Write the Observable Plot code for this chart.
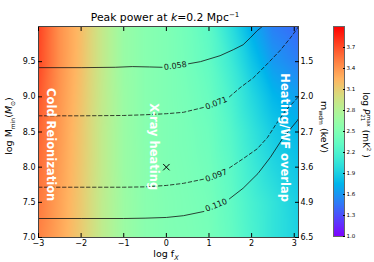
<!DOCTYPE html>
<html><head><meta charset="utf-8">
<script src="https://cdn.jsdelivr.net/npm/d3@7"></script>
<script src="https://cdn.jsdelivr.net/npm/@observablehq/plot@0.6"></script>
<style>
body{margin:0;background:#fff;}
#chart{position:relative;width:374px;height:262px;font-family:"DejaVu Sans",sans-serif;}
#chart svg{position:absolute;top:0;}
</style></head><body><div id="chart"></div>
<script>
// heatmap grid (log f_X columns, log M_min rows)
const fxGrid = [-3, -2.5, -2, -1.5, -1, -0.5, 0, 0.5, 1, 1.5, 2, 2.5, 3.1];
const mminGrid = [10, 9.5, 9, 8.5, 8, 7.5, 7];
const logP = [
  [3.75, 3.42, 3.20, 2.90, 2.65, 2.55, 2.50, 2.42, 2.30, 2.02, 1.72, 1.50, 1.40],
  [3.73, 3.42, 3.19, 2.90, 2.65, 2.55, 2.50, 2.43, 2.33, 2.12, 1.85, 1.62, 1.50],
  [3.68, 3.40, 3.17, 2.89, 2.66, 2.55, 2.50, 2.45, 2.37, 2.20, 1.97, 1.77, 1.65],
  [3.62, 3.38, 3.15, 2.88, 2.66, 2.55, 2.50, 2.46, 2.40, 2.26, 2.06, 1.88, 1.77],
  [3.58, 3.36, 3.14, 2.88, 2.66, 2.56, 2.50, 2.47, 2.42, 2.30, 2.12, 1.96, 1.84],
  [3.53, 3.34, 3.13, 2.87, 2.67, 2.56, 2.51, 2.48, 2.44, 2.33, 2.18, 2.05, 1.90],
  [3.49, 3.32, 3.12, 2.87, 2.67, 2.56, 2.51, 2.49, 2.45, 2.35, 2.20, 2.05, 1.92]
];
// tick values / labels
const xTicks = [-3, -2, -1, 0, 1, 2, 3];
const yTicks = [7.0, 7.5, 8.0, 8.5, 9.0, 9.5];
const mwdmLabels = ["6.5", "4.9", "3.6", "2.7", "2.0", "1.5"];
const cbarTicks = [1.0, 1.3, 1.6, 1.9, 2.2, 2.5, 2.8, 3.1, 3.4, 3.7];
// contour lines (null = gap for label)
const c058x = [-3, -2, -1.2, -0.8, -0.4, -0.1, null, 0.52, 0.8, 1.26, 1.57, 1.8, 1.97, 2.13, 2.25];
const c058y = [9.415, 9.415, 9.42, 9.43, 9.425, 9.42, null, 9.47, 9.5, 9.585, 9.67, 9.74, 9.84, 9.94, 10.0];
const c071x = [-3, -2, -1, -0.5, 0, 0.4, 0.88, null, 1.48, 1.73, 2.04, 2.37, 2.67, 2.9, 3.07, 3.1];
const c071y = [8.73, 8.73, 8.735, 8.745, 8.76, 8.78, 8.85, null, 9.0, 9.13, 9.27, 9.47, 9.66, 9.83, 9.97, 10.0];
const c097x = [-3, -2, -1, -0.5, 0, 0.4, 0.88, null, 1.48, 1.8, 2.13, 2.37, 2.55, 2.79, 3.1];
const c097y = [7.715, 7.715, 7.715, 7.72, 7.74, 7.77, 7.83, null, 7.99, 8.12, 8.26, 8.42, 8.59, 8.8, 9.0];
const c110x = [-3, -2, -1, -0.5, 0, 0.4, 0.88, null, 1.48, 1.8, 2.15, 2.44, 2.74, 3.07, 3.1];
const c110y = [7.27, 7.27, 7.27, 7.275, 7.285, 7.31, 7.37, null, 7.55, 7.7, 7.91, 8.14, 8.42, 8.66, 8.69];
const contourLevels = ["0.058", "0.071", "0.097", "0.110"];
const contourDashed = [false, true, true, false];
const labelX = [0.21, 1.17, 1.17, 1.17];
const labelY = [9.44, 8.91, 7.88, 7.46];
const labelRot = [-8, -21, -21, -22];
// region annotations
const regionNames = ["Cold Reionization", "X-ray heating", "Heating/WF overlap"];
const regionX = [-2.72, -0.3, 2.77];
const regionY = [8.32, 8.29, 8.42];
const fiducialX = [0];
const fiducialY = [8.0];

// matplotlib "rainbow" colormap
function rainbow(t) {
  t = Math.max(0, Math.min(1, t));
  const r = Math.min(1, Math.abs(2 * t - 0.5));
  const g = Math.max(0, Math.sin(Math.PI * t));
  const b = Math.max(0, Math.cos(Math.PI * t / 2));
  return `rgb(${Math.round(r * 255)},${Math.round(g * 255)},${Math.round(b * 255)})`;
}
const color = {type: "linear", domain: [1, 4], interpolate: rainbow};

const grid = mminGrid.flatMap((y, i) => fxGrid.map((x, j) => ({x, y, v: logP[i][j]})));
const cx = [c058x, c071x, c097x, c110x], cy = [c058y, c071y, c097y, c110y];
const lines = contourLevels.flatMap((lev, k) => cx[k].map((x, i) => ({x, y: cy[k][i], id: lev, dashed: contourDashed[k]})));
const labels = contourLevels.map((t, i) => ({t, x: labelX[i], y: labelY[i], r: labelRot[i]}));
const regions = regionNames.map((t, i) => ({t, x: regionX[i], y: regionY[i]}));
const fid = fiducialX.map((x, i) => ({x, y: fiducialY[i]}));

const W = 374, H = 262;
const main = Plot.plot({
  width: W, height: H,
  marginLeft: 38, marginRight: 76, marginTop: 26, marginBottom: 25,
  x: {domain: [-3, 3.1]},
  y: {domain: [7, 10]},
  color,
  style: {fontFamily: "DejaVu Sans", fontSize: "8px", color: "#000", background: "transparent", overflow: "visible"},
  marks: [
    Plot.raster(grid, {x: "x", y: "y", fill: "v", interpolate: "barycentric", pixelSize: 1}),
    Plot.line(lines.filter(d => !d.dashed), {x: "x", y: "y", z: "id", stroke: "#111", strokeWidth: 0.8, clip: true}),
    Plot.line(lines.filter(d => d.dashed), {x: "x", y: "y", z: "id", stroke: "#111", strokeWidth: 0.8, strokeDasharray: "3.5,2.5", clip: true}),
    Plot.text(labels, {x: "x", y: "y", text: "t", rotate: "r", fill: "#111", fontSize: 8}),
    Plot.text(regions, {x: "x", y: "y", text: "t", rotate: 90, fill: "white", fontWeight: "bold", fontSize: 11.5}),
    Plot.dot(fid, {x: "x", y: "y", symbol: "times", r: 3, stroke: "#000", strokeWidth: 1}),
    Plot.frame({stroke: "#444"}),
    Plot.axisX({ticks: xTicks, tickFormat: d3.format("d"), tickSize: -4, tickPadding: 7, label: null}),
    Plot.axisX({anchor: "top", ticks: xTicks, tickFormat: () => "", tickSize: -4, label: null}),
    Plot.axisY({anchor: "left", ticks: yTicks, tickFormat: d3.format(".1f"), tickSize: -4, tickPadding: 7, label: null}),
    Plot.axisY({anchor: "right", ticks: yTicks, tickFormat: d => mwdmLabels[yTicks.indexOf(d)], tickSize: -4, tickPadding: 6, label: null})
  ]
});

const cbar = Plot.plot({
  width: 41, height: H,
  marginLeft: 0, marginRight: 30, marginTop: 26, marginBottom: 26,
  x: {domain: [0, 1], axis: null},
  y: {domain: [1, 4]},
  color,
  style: {fontFamily: "DejaVu Sans", fontSize: "5.5px", color: "#000", background: "transparent", overflow: "visible"},
  marks: [
    Plot.raster({fill: (x, y) => y, x1: 0, x2: 1, y1: 1, y2: 4, pixelSize: 1}),
    Plot.frame({stroke: "#666"}),
    Plot.axisY({anchor: "right", ticks: cbarTicks, tickFormat: d3.format(".1f"), tickSize: -2, tickPadding: 4, label: null})
  ]
});
cbar.style.left = "333px";

const root = document.getElementById("chart");
root.appendChild(main);
root.appendChild(cbar);

function rich(sel, parts) {
  parts.forEach(p => {
    const t = sel.append("tspan").text(p.t);
    if (p.dy) t.attr("dy", p.dy);
    if (p.dx) t.attr("dx", p.dx);
    if (p.fs) t.attr("font-size", p.fs);
    if (p.it) t.attr("font-style", "italic");
  });
}
const ms = d3.select(main);
const txt = (sel, x, y, rot, size) => sel.append("text")
  .attr("transform", `translate(${x},${y}) rotate(${rot})`)
  .attr("text-anchor", "middle").attr("font-family", "DejaVu Sans").attr("font-size", size).attr("fill", "#000");

rich(txt(ms, 165, 21, 0, 10.8), [
  {t: "Peak power at "}, {t: "k", it: true}, {t: "=0.2 Mpc"}, {t: "−1", fs: 7, dy: -4}
]);
rich(txt(ms, 166, 257, 0, 9.5), [
  {t: "log f"}, {t: "X", fs: 6.5, dy: 2.5, it: true}
]);
rich(txt(ms, 12, 126, -90, 9.5), [
  {t: "log M"}, {t: "min", fs: 6, dy: 2.5}, {t: "(", dy: -2.5}, {t: "M", it: true}, {t: "⊙", fs: 6, dy: 2.5}, {t: ")", dy: -2.5}
]);
rich(txt(ms, 321, 127, 90, 9.5), [
  {t: "m"}, {t: "wdm", fs: 6, dy: 2.5}, {t: " (keV)", dy: -2.5}
]);
const cs = d3.select(cbar);
rich(txt(cs, 30, 125, 90, 9), [
  {t: "log "}, {t: "P", it: true}, {t: "21", fs: 5.5, dy: 2.5}, {t: "max", fs: 5.5, dx: -6.5, dy: -6.5}, {t: " (mK", dy: 4}, {t: "2", fs: 5.5, dy: -3.5}, {t: " )", dy: 3.5}
]);
</script>
</body></html>
